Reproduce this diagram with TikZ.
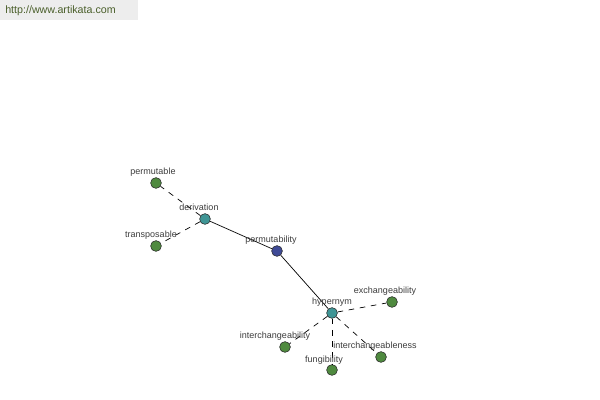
\documentclass[tikz,border=0pt]{standalone}
\usepackage{fontspec}
\setmainfont{Liberation Sans}
\usetikzlibrary{positioning}
\definecolor{termgreen}{HTML}{4F8A3F}
\definecolor{termteal}{HTML}{3F9595}
\definecolor{termblue}{HTML}{3F4A96}
\definecolor{termedge}{HTML}{2A2A2A}
\definecolor{termtext}{HTML}{3C3C3C}
\definecolor{bannerbg}{HTML}{EDEDED}
\definecolor{bannertext}{HTML}{4A5F2A}

\begin{document}
\begin{tikzpicture}[
  x=0.025cm,
  y=-0.025cm,
  every node/.style={font=\fontsize{6.4pt}{7pt}\selectfont, termtext},
  word/.style={circle, draw=termedge, line width=0.4pt, inner sep=0pt,
               minimum size=0.27cm},
  leaf/.style={word, fill=termgreen},
  rel/.style={word, fill=termteal},
  head/.style={word, fill=termblue},
  tag/.style={inner sep=0pt, anchor=base},
  link/.style={black, line width=0.5pt},
  dashlink/.style={black, line width=0.5pt, dash pattern=on 4pt off 4pt}
]
  \useasboundingbox (0,0) rectangle (600,400);

  % ---- banner ----
  \fill[bannerbg] (0,0) rectangle (138,20);
  \node[anchor=west, inner sep=0pt, bannertext, font=\fontsize{7.6pt}{9pt}\selectfont]
    (site) at (5,11) {http://www.artikata.com};

  % ---- word nodes ----
  \node[head] (permutability) at (277,251) {};
  \node[rel]  (derivation)    at (205,219) {};
  \node[rel]  (hypernym)      at (332,313) {};
  \node[leaf] (permutable)    at (156,183) {};
  \node[leaf] (transposable)  at (156,246) {};
  \node[leaf] (exchangeability)     at (392,302) {};
  \node[leaf] (interchangeability)  at (285,347) {};
  \node[leaf] (fungibility)         at (332,370) {};
  \node[leaf] (interchangeableness) at (381,357) {};

  % ---- connectors ----
  \draw[link] (derivation) -- (permutability);
  \draw[link] (permutability) -- (hypernym);
  \draw[dashlink] (derivation) -- (permutable);
  \draw[dashlink] (derivation) -- (transposable);
  \foreach \w in {exchangeability,interchangeability,fungibility,interchangeableness}
    \draw[dashlink] (hypernym) -- (\w);

  % ---- labels ----
  \node[tag] (permutable-lab)    at (153,175) {permutable};
  \node[tag] (derivation-lab)    at (199,211) {derivation};
  \node[tag] (transposable-lab)  at (151,238) {transposable};
  \node[tag] (permutability-lab) at (271,243) {permutability};
  \node[tag] (hypernym-lab)      at (332,305) {hypernym};
  \node[tag] (exchangeability-lab)     at (385,294) {exchangeability};
  \node[tag] (interchangeability-lab)  at (275,339) {interchangeability};
  \node[tag] (fungibility-lab)         at (324,362) {fungibility};
  \node[tag] (interchangeableness-lab) at (375,349) {interchangeableness};
\end{tikzpicture}
\end{document}
